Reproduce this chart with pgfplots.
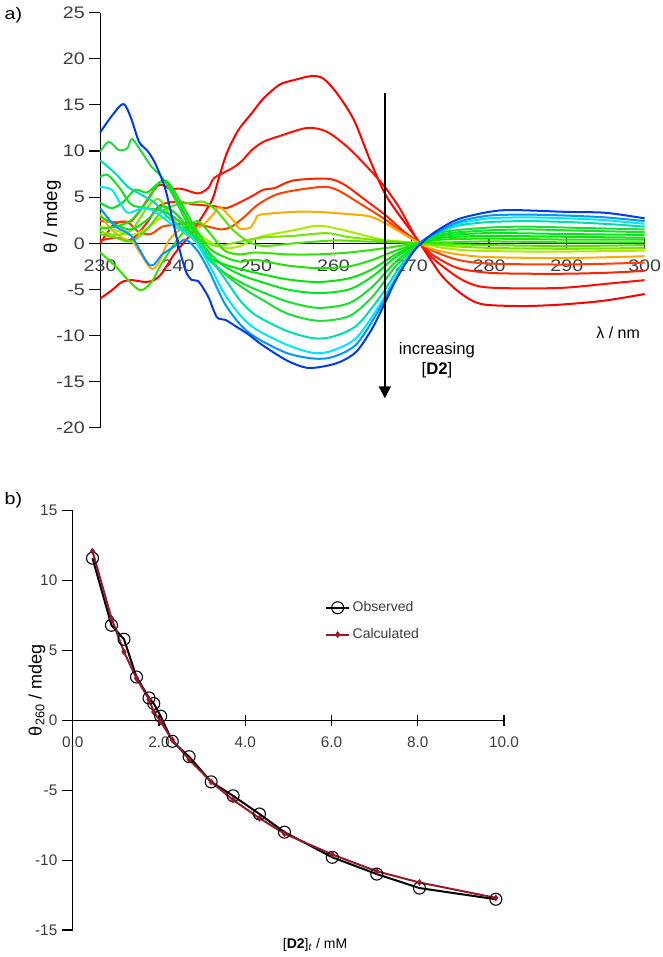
\documentclass[border=0pt]{standalone}
\usepackage{pgfplots}
\pgfplotsset{compat=1.18}
\usepackage{fontspec}
\setmainfont{Liberation Sans}
\newfontfamily\widefont{Liberation Sans}[FakeStretch=1.18]
\usetikzlibrary{arrows.meta}
\definecolor{tickgray}{RGB}{55,60,70}
\definecolor{c1}{RGB}{255,0,0}
\definecolor{c2}{RGB}{255,15,0}
\definecolor{c3}{RGB}{255,35,0}
\definecolor{c4}{RGB}{255,65,0}
\definecolor{c5}{RGB}{255,170,0}
\definecolor{c6}{RGB}{170,235,0}
\definecolor{c7}{RGB}{120,230,0}
\definecolor{c8}{RGB}{80,228,0}
\definecolor{c9}{RGB}{50,228,0}
\definecolor{c10}{RGB}{30,228,0}
\definecolor{c11}{RGB}{10,228,10}
\definecolor{c12}{RGB}{0,230,30}
\definecolor{c13}{RGB}{20,225,40}
\definecolor{c14}{RGB}{30,220,60}
\definecolor{c15}{RGB}{0,220,180}
\definecolor{c16}{RGB}{0,230,255}
\definecolor{c17}{RGB}{0,150,255}
\definecolor{c18}{RGB}{0,60,230}
\definecolor{calc}{RGB}{150,25,40}
\pgfplotsset{
  myaxis/.style={
    scale only axis,
    anchor=south west,
    axis x line=middle,
    axis y line=left,
    x axis line style={-},
    y axis line style={-},
    axis line style={black, line width=0.9pt},
    hide obscured x ticks=false,
    hide obscured y ticks=false,
    xtick align=center,
    ytick align=outside,
    major tick length=8pt,
    tick style={black, line width=0.9pt},
    minor tick num=0,
    tick label style={color=tickgray},
    xticklabel style={yshift=-5pt},
    label style={color=black},
    /pgf/number format/assume math mode=true,
    clip=false,
  },
  every axis plot/.append style={line width=1.5pt},
}
\begin{document}
\begin{tikzpicture}
\useasboundingbox (0,0) rectangle (497.25pt,717.75pt);
\node[anchor=west, font=\widefont\fontsize{12.5}{14}\selectfont] at (0pt,706.5pt) {a)};
\node[anchor=west, font=\widefont\fontsize{12.5}{14}\selectfont] at (0pt,342.75pt) {b)};
% ---------------- panel a
\begin{axis}[myaxis,
  at={(75.1pt,396.9pt)}, width=408.4pt, height=311.4pt,
  xmin=230, xmax=300, ymin=-20, ymax=25,
  xtick={230,240,...,300}, ytick={-20,-15,...,25},
  tick label style={font=\widefont\fontsize{12.5}{14}\selectfont},
  yticklabel style={/pgf/number format/.cd, fixed},
  ylabel={θ / mdeg},
  ylabel style={at={(axis description cs:-0.088,0.508)}, anchor=center, rotate=0, font=\fontsize{14}{16}\selectfont},
  xlabel={λ / nm},
  xlabel style={at={(axis description cs:1.0,0.228)}, anchor=east, font=\fontsize{12}{14}\selectfont},
  xticklabel style={/pgf/number format/.cd, 1000 sep={}},
]
\addplot[c1, smooth] coordinates {(230,-6.0)(231.5,-5.1)(232.8,-4.2)(234.1,-4.0)(235.8,-4.2)(236.9,-4.0)(237.9,-3.3)(239.6,-1.1)(241.4,0.7)(242.6,2.2)(244.4,4.7)(245.2,6.9)(246.3,9.8)(247.8,12.3)(249.5,14.1)(251,15.7)(253.1,17.2)(255,17.7)(257,18.1)(258.6,17.9)(260.4,16.3)(262.6,13.4)(264.7,9.0)(266.6,5.4)(268.5,3.0)(270,1.3)(271.1,0)(272.5,-1.8)(274,-3.6)(276,-5.2)(278,-6.3)(280,-6.7)(285,-6.8)(290,-6.6)(295,-6.2)(300,-5.5)};
\addplot[c2, smooth] coordinates {(230,0)(231.5,1.8)(232.5,2.3)(234,2.4)(235.5,4.0)(237.5,6.3)(239,5.9)(240.5,5.9)(242.6,5.4)(243.9,6.0)(244.7,7.1)(246.9,8.1)(248.2,8.9)(249.5,10.1)(251,11.0)(253,11.6)(256.6,12.5)(259.1,12.1)(261.7,10.5)(264.3,8.3)(266.6,6.1)(268.5,3.8)(270,1.5)(271.1,0)(273,-1.8)(276,-3.7)(278,-4.5)(280,-4.8)(285,-4.9)(290,-4.8)(295,-4.4)(300,-4.0)};
\addplot[c3, smooth] coordinates {(230,0.3)(232,0.6)(234,0.4)(236,2.2)(237.5,4.0)(239.6,4.5)(242.2,4.2)(244.8,4.0)(246.1,3.8)(247.4,4.2)(249.5,5.1)(251,5.8)(252.5,6.0)(254.8,6.8)(259.1,7.0)(261.3,6.4)(264.7,4.3)(266.6,3.1)(269,1.3)(271.1,0)(273,-1.4)(276,-2.7)(280,-3.2)(285,-3.3)(290,-3.3)(295,-3.2)(300,-3.0)};
\addplot[c4, smooth] coordinates {(230,2.4)(232,2.3)(233.5,2.3)(235,1.2)(236.5,1.0)(238,1.8)(239.6,2.0)(241.5,2.2)(243.9,1.8)(245.6,1.5)(246.9,1.8)(248.6,2.9)(250.3,4.2)(253.1,5.4)(258.3,6.1)(260.4,5.8)(263.4,4.3)(266.6,2.6)(269,1.1)(271.1,0)(273,-0.9)(276,-1.8)(280,-2.2)(290,-2.3)(300,-2.1)};
\addplot[c5, smooth] coordinates {(230,3.2)(231.3,1.6)(233,0.5)(234.3,0)(236,-2.2)(236.7,-2.8)(237.5,-2.2)(238.3,-0.6)(239,0.5)(240.4,1.5)(242.9,1.8)(244.6,3.2)(245.4,3.9)(247.1,2.5)(247.9,1.6)(249.3,1.7)(250,2.6)(250.6,3.1)(254.8,3.4)(257.9,3.4)(261.3,3.2)(264.7,2.9)(267,2.0)(269,1.0)(271.1,0)(273,-0.7)(276,-1.2)(280,-1.5)(290,-1.6)(300,-1.4)};
\addplot[c6, smooth] coordinates {(230,1.8)(232,1.4)(234,0.9)(236,1.6)(238,2.8)(240,2.5)(242,1.5)(244,0.2)(246,-0.5)(248,-0.3)(250.6,0.7)(254.8,1.4)(257.9,1.9)(260.4,1.6)(264.7,0.7)(267,0.3)(271.1,0)(274,-0.5)(278,-0.8)(285,-0.9)(290,-0.9)(300,-0.8)};
\addplot[c7, smooth] coordinates {(230,1.3)(232,0.9)(234,1.4)(236,3.8)(237.5,4.8)(239,3.0)(241,1.0)(243,0.3)(245,-0.3)(247,0)(250.6,0.6)(254.8,0.8)(259.1,1.1)(261.7,0.7)(265,0.4)(271.1,0)(275,-0.3)(280,-0.5)(290,-0.6)(300,-0.5)};
\addplot[c8, smooth] coordinates {(230,1.0)(232,0.6)(234,0.2)(236,1.5)(238,3.5)(240,4.2)(242,4.4)(243.3,4.5)(245,3.5)(247,1.5)(249,0.2)(251,-0.3)(255,0)(260,0.3)(264,0.2)(268,0.1)(271.1,0)(275,-0.1)(280,-0.2)(290,-0.3)(300,-0.2)};
\addplot[c9, smooth] coordinates {(230,-1.0)(232,-2.5)(233.6,-4.0)(235.2,-5.1)(236.6,-4.2)(237.9,-2.2)(239.6,0)(241,1.5)(242.5,2.4)(244,1.2)(246,-0.8)(248,-1.2)(250,-1.0)(254,-1.2)(258,-1.2)(262,-1.0)(266,-0.6)(271.1,0)(275,0.1)(280,0.2)(290,0.1)(300,0.1)};
\addplot[c10, smooth] coordinates {(230,1.6)(232,1.8)(234,2.5)(236,4.5)(237.5,6.5)(238.6,6.7)(240,5.0)(242,2.0)(244,-0.5)(246,-1.5)(248,-2.0)(250,-1.8)(254,-2.4)(258,-2.7)(262,-2.5)(265,-1.8)(268,-0.8)(271.1,0)(274,0.4)(280,0.5)(290,0.4)(300,0.4)};
\addplot[c11, smooth] coordinates {(230,2.9)(232,2.0)(234,1.5)(236,2.5)(238,4.0)(240,3.0)(242,0.8)(244,-1.5)(246,-2.3)(248,-2.8)(250,-3.2)(254,-3.9)(258,-4.2)(262,-3.8)(265,-2.8)(268,-1.2)(271.1,0)(274,0.6)(280,0.8)(290,0.7)(300,0.6)};
\addplot[c12, smooth] coordinates {(230,4.4)(231.5,3.8)(233,4.5)(234.5,5.8)(236,5.5)(237.5,6.5)(238.5,6.7)(240,4.5)(242,1.5)(244,-1.0)(246,-2.5)(248,-3.4)(250,-4.0)(254,-5.0)(258,-5.4)(262,-5.0)(265,-3.6)(268,-1.5)(271.1,0)(274,0.8)(280,1.1)(290,1.0)(300,0.9)};
\addplot[c13, smooth] coordinates {(230,7.2)(231,7.4)(232.5,6.0)(234,4.2)(236,3.8)(238,3.5)(240,2.5)(242,0.5)(244,-1.8)(246,-3.2)(248,-4.2)(250,-5.0)(254,-6.3)(258,-7.0)(262,-6.5)(265,-4.7)(268,-2.0)(271.1,0)(274,1.0)(280,1.4)(285,1.5)(290,1.4)(300,1.2)};
\addplot[c14, smooth] coordinates {(230,9.9)(231.1,11.0)(232.4,10.1)(233.5,10.3)(234.1,11.3)(235.4,9.8)(236.6,8.3)(237.9,7.2)(239.5,5.0)(241,2.5)(243,0)(245,-2.5)(247,-4.0)(249,-5.2)(251,-6.2)(254,-7.6)(258,-8.4)(262,-7.9)(265,-5.8)(268,-2.5)(271.1,0)(274,1.2)(280,1.7)(285,1.8)(290,1.7)(300,1.5)};
\addplot[c15, smooth] coordinates {(230,9.0)(231.9,7.6)(233.6,6.1)(235,5.4)(237,4.4)(238.6,2.9)(240.3,1.8)(242,0.4)(244,-1.5)(246,-3.8)(248,-6.2)(250,-7.8)(254,-9.5)(257.5,-10.3)(260,-10.1)(263,-8.9)(266,-5.8)(268.5,-2.6)(271.1,0)(273,1.0)(276,1.9)(280,2.3)(285,2.4)(290,2.3)(295,2.1)(300,1.8)};
\addplot[c16, smooth] coordinates {(230,6.1)(231.5,5.8)(232.6,4.3)(233.6,3.3)(235.4,3.8)(236.6,3.6)(237.9,2.9)(239.6,1.8)(242,0.5)(244,-2.3)(246,-5.5)(248,-7.8)(250,-9.3)(254,-11.0)(257.5,-11.9)(260,-11.6)(263,-10.2)(266,-6.6)(268.5,-3.0)(271.1,0)(273,1.0)(276,2.1)(280,2.7)(285,2.8)(290,2.7)(295,2.5)(300,2.1)};
\addplot[c17, smooth] coordinates {(230,3.8)(232,1.8)(234,0.8)(236.4,-2.4)(238,-1.2)(240,-0.1)(241,0.4)(242.5,-0.8)(244,-3.0)(246,-6.5)(248,-8.8)(250,-10.2)(254,-11.9)(257.5,-12.5)(260,-12.3)(263,-10.9)(266,-7.0)(268.5,-3.2)(271.1,0)(273,1.0)(276,2.3)(280,3.0)(285,3.1)(290,3.0)(295,2.8)(300,2.4)};
\addplot[c18, smooth] coordinates {(230,12.0)(231.5,13.8)(233,15.1)(234,13.5)(235,11.0)(236,10.1)(237,8.8)(238.3,6.1)(239.2,3.0)(240,0)(241,-3.0)(241.8,-4.0)(242.6,-4.1)(243.9,-5.8)(245,-8.0)(246.1,-8.3)(247.8,-9.2)(249.1,-9.9)(250.8,-11.0)(254,-12.7)(256.6,-13.5)(259,-13.3)(261,-12.8)(263,-11.7)(265,-9.2)(266.6,-6.5)(268,-4.0)(270,-1.2)(271.3,0)(273,1.2)(276,2.6)(280,3.4)(283,3.6)(290,3.4)(295,3.3)(300,2.7)};
\draw[black, line width=1.5pt, -{Triangle[width=9pt,length=9pt]}] (axis cs:266.6,16.3) -- (axis cs:266.6,-16.8);
\node[font=\fontsize{12.5}{15}\selectfont, align=center, anchor=center] at (axis cs:273.3,-12.7) {increasing\\{[}\textbf{D2}{]}};
\end{axis}
% ---------------- panel b
\begin{axis}[myaxis,
  at={(54.5pt,20.25pt)}, width=323.5pt, height=314.5pt,
  xmin=0, xmax=10, ymin=-15, ymax=15,
  xtick={0,2,...,10}, ytick={-15,-10,...,15},
  tick label style={font=\fontsize{11.5}{13}\selectfont},
  xticklabel style={/pgf/number format/.cd, fixed, fixed zerofill, precision=1},
  yticklabel style={/pgf/number format/.cd, fixed},
  ylabel={θ\textsubscript{260} / mdeg},
  ylabel style={at={(axis description cs:-0.083,0.572)}, anchor=center, rotate=0, font=\fontsize{13.5}{15}\selectfont},
  xlabel={{[}\textbf{D2}{]}\textsubscript{\textit{t}} / mM},
  xlabel style={at={(axis description cs:0.562,-0.036)}, anchor=center, font=\fontsize{10.5}{12}\selectfont},
  legend style={draw=none, fill=none, at={(axis description cs:0.585,0.79)}, anchor=north west,
    font=\fontsize{10.5}{12}\selectfont, text=tickgray, row sep=7pt, inner sep=0pt},
  legend cell align=left,
]
\addplot[black, mark=o, mark size=4.5pt, mark options={line width=0.8pt, fill=none}] coordinates {
(0.46,11.6)(0.90,6.8)(1.19,5.8)(1.48,3.1)(1.77,1.6)(1.88,1.2)(2.04,0.3)(2.31,-1.5)(2.70,-2.6)(3.21,-4.4)(3.72,-5.4)(4.33,-6.7)(4.91,-8.0)(6.02,-9.8)(7.05,-11.0)(8.04,-12.0)(9.81,-12.8)};
\addlegendentry{Observed}
\addplot[calc, mark=diamond*, mark size=2.2pt, mark options={fill=calc, line width=0.5pt}] coordinates {
(0.46,12.1)(0.90,7.3)(1.19,4.9)(1.48,3.0)(1.77,1.5)(1.88,0.6)(2.04,-0.1)(2.31,-1.4)(2.70,-2.8)(3.21,-4.4)(3.72,-5.7)(4.33,-7.0)(4.91,-8.1)(6.02,-9.6)(7.05,-10.8)(8.04,-11.6)(9.81,-12.7)};
\addlegendentry{Calculated}
\end{axis}
\end{tikzpicture}
\end{document}
